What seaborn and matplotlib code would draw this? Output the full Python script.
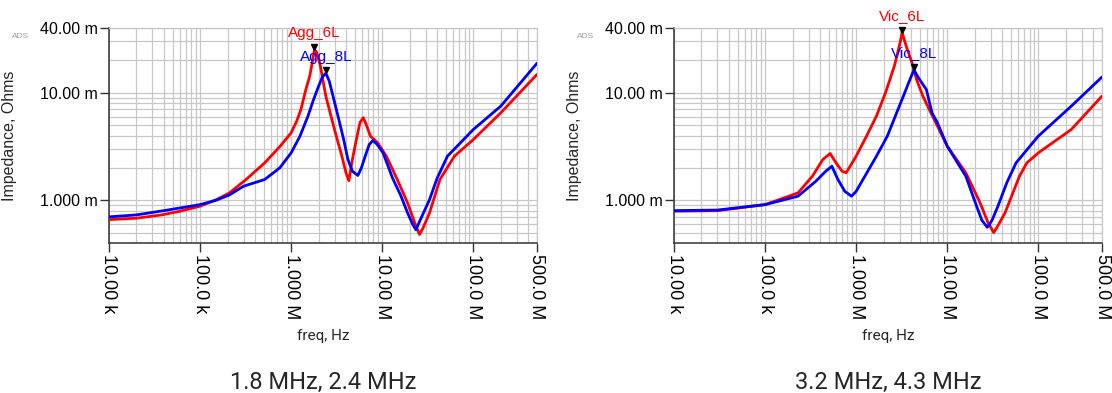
import numpy as np
import pandas as pd
import matplotlib
matplotlib.use("Agg")
import matplotlib.pyplot as plt
from matplotlib.ticker import LogLocator, NullFormatter, FixedLocator
from matplotlib.transforms import offset_copy
import seaborn as sns

# ---------------- data (frequency in Hz, impedance in mOhm) ----------------
agg6_freq = [10e3, 20e3, 37.7e3, 60e3, 100e3, 150e3, 210e3, 320e3, 513e3, 750e3,
             1.0e6, 1.15e6, 1.28e6, 1.45e6, 1.6e6, 1.72e6, 1.8e6, 1.9e6, 2.09e6, 2.4e6,
             3.0e6, 3.6e6, 4.0e6, 4.3e6, 4.7e6, 5.2e6, 5.7e6, 6.2e6, 6.7e6, 7.4e6,
             8.9e6, 11.1e6, 14.6e6, 19e6, 23e6, 25.6e6, 28e6, 33e6, 43e6, 62e6,
             100e6, 200e6, 500e6]
agg6_z = [0.66, 0.68, 0.73, 0.79, 0.88, 1.01, 1.17, 1.56, 2.23, 3.15,
          4.24, 5.44, 7.0, 10.7, 14.3, 20.0, 25.0, 24.0, 17.8, 9.3,
          4.5, 2.57, 1.8, 1.52, 2.39, 3.67, 5.3, 5.85, 5.0, 3.95,
          3.42, 2.57, 1.56, 0.94, 0.60, 0.48, 0.55, 0.76, 1.56, 2.57,
          3.67, 6.5, 14.8]

agg8_freq = [10e3, 20e3, 40e3, 100e3, 150e3, 210e3, 300e3, 513e3, 750e3, 1.0e6,
             1.25e6, 1.53e6, 1.75e6, 2.0e6, 2.2e6, 2.4e6, 2.62e6, 2.88e6, 3.3e6, 3.77e6,
             4.2e6, 4.7e6, 5.4e6, 5.9e6, 6.5e6, 7.2e6, 7.9e6, 8.8e6, 10.2e6, 13e6,
             16e6, 19e6, 21.5e6, 23.4e6, 26e6, 33e6, 40e6, 52e6, 100e6, 200e6, 500e6]
agg8_z = [0.70, 0.73, 0.80, 0.91, 1.0, 1.12, 1.35, 1.56, 2.0, 2.76,
          3.95, 6.07, 8.5, 11.5, 14.0, 15.2, 12.8, 9.3, 5.85, 3.67,
          2.39, 1.86, 1.70, 2.0, 2.57, 3.3, 3.6, 3.3, 2.76, 1.6,
          1.1, 0.76, 0.60, 0.53, 0.65, 1.01, 1.6, 2.57, 4.55, 7.5, 18.8]

vic6_freq = [10e3, 30e3, 100e3, 230e3, 330e3, 430e3, 518e3, 600e3, 700e3, 777e3,
             1.0e6, 1.3e6, 1.67e6, 2.1e6, 2.63e6, 3.0e6, 3.2e6, 3.6e6, 4.1e6, 4.6e6,
             5.4e6, 6.5e6, 7.8e6, 10e6, 16e6, 23e6, 28e6, 32.4e6, 36e6, 43e6,
             62e6, 75e6, 100e6, 230e6, 500e6]
vic6_z = [0.79, 0.80, 0.91, 1.17, 1.67, 2.39, 2.72, 2.23, 1.86, 1.80,
          2.57, 3.95, 6.07, 10.0, 17.8, 28.0, 36.0, 26.0, 19.0, 13.3,
          9.3, 6.7, 4.9, 3.18, 1.80, 0.94, 0.62, 0.50, 0.58, 0.76,
          1.67, 2.23, 2.76, 4.55, 9.3]

vic8_freq = [10e3, 30e3, 100e3, 230e3, 360e3, 460e3, 541e3, 630e3, 750e3, 889e3,
             1.0e6, 1.67e6, 2.2e6, 2.88e6, 3.3e6, 3.77e6, 4.3e6, 4.9e6, 5.9e6, 6.8e6,
             7.8e6, 10e6, 16e6, 21e6, 24e6, 27.5e6, 31e6, 36e6, 45e6, 57e6,
             100e6, 230e6, 500e6]
vic8_z = [0.80, 0.81, 0.91, 1.09, 1.50, 1.85, 2.07, 1.56, 1.21, 1.09,
          1.21, 2.57, 3.95, 7.0, 9.3, 12.4, 16.3, 13.5, 10.7, 6.5,
          5.25, 3.18, 1.67, 0.88, 0.65, 0.56, 0.65, 0.88, 1.45, 2.23,
          3.95, 7.5, 14.0]

panel_titles = ["1.8 MHz, 2.4 MHz", "3.2 MHz, 4.3 MHz"]
series_labels = [("Agg_6L", "Agg_8L"), ("Vic_6L", "Vic_8L")]
marker_freq = [(1.8e6, 2.4e6), (3.2e6, 4.3e6)]
marker_z = [(25.0, 15.2), (36.0, 16.3)]

x_tick_vals = [1e4, 1e5, 1e6, 1e7, 1e8, 5e8]
x_tick_labels = ["10.00 k", "100.0 k", "1.000 M", "10.00 M", "100.0 M", "500.0 M"]
y_tick_vals = [1e-3, 1e-2, 4e-2]
y_tick_labels = ["1.000 m", "10.00 m", "40.00 m"]

# ---------------- style ----------------
sns.set_theme(style="white")
plt.rcParams["font.family"] = ["Liberation Sans", "DejaVu Sans"]

W, H = 1112, 393
fig = plt.figure(figsize=(W / 100, H / 100), dpi=100)
fig.patch.set_facecolor("white")

RED = "#ff0000"
BLUE = "#0000ff"
GRID = "#c8c8c8"

panels = [
    (109, (agg6_freq, agg6_z), (agg8_freq, agg8_z)),
    (674, (vic6_freq, vic6_z), (vic8_freq, vic8_z)),
]

for i, (left_px, s6, s8) in enumerate(panels):
    ax = fig.add_axes([left_px / W, (H - 243) / H, 428 / W, 215 / H])
    df6 = pd.DataFrame({"freq": s6[0], "z": np.array(s6[1]) * 1e-3})
    df8 = pd.DataFrame({"freq": s8[0], "z": np.array(s8[1]) * 1e-3})
    sns.lineplot(data=df6, x="freq", y="z", ax=ax, color=RED, lw=2.0, sort=False, zorder=3)
    sns.lineplot(data=df8, x="freq", y="z", ax=ax, color=BLUE, lw=2.0, sort=False, zorder=4)
    ax.set_xscale("log")
    ax.set_yscale("log")
    ax.set_xlim(1e4, 5e8)
    ax.set_ylim(4e-4, 4e-2)

    ax.xaxis.set_major_locator(FixedLocator(x_tick_vals))
    ax.set_xticklabels(x_tick_labels, rotation=270, ha="center", va="top", fontsize=13)
    ax.xaxis.set_minor_locator(LogLocator(base=10, subs=np.arange(2, 10), numticks=20))
    ax.xaxis.set_minor_formatter(NullFormatter())
    ax.yaxis.set_major_locator(FixedLocator(y_tick_vals))
    ax.set_yticklabels(y_tick_labels, fontsize=11.5)
    ax.yaxis.set_minor_locator(LogLocator(base=10, subs=np.arange(2, 10), numticks=20))
    ax.yaxis.set_minor_formatter(NullFormatter())

    ax.grid(True, which="both", color=GRID, lw=0.9, zorder=0)
    ax.tick_params(axis="both", which="major", direction="out", length=6.5, width=1,
                   color="#333333", pad=1.5, labelcolor="black", left=True, bottom=True)
    ax.tick_params(axis="both", which="minor", length=0)
    for side in ["top", "right"]:
        ax.spines[side].set_color(GRID)
        ax.spines[side].set_linewidth(0.9)
    for side in ["left", "bottom"]:
        ax.spines[side].set_color("#333333")
        ax.spines[side].set_linewidth(1.1)

    ax.set_xlabel("")
    ax.set_ylabel("Impedance, Ohms", fontsize=11.5)
    ax.yaxis.set_label_coords(-92 / 428, 0.5)

    # markers
    mtrans = offset_copy(ax.transData, fig=fig, x=0, y=3, units="dots")
    for lab, mf, mz, col in zip(series_labels[i], marker_freq[i], marker_z[i], [RED, BLUE]):
        ax.plot([mf], [mz * 1e-3], marker="v", ms=5, color="black", ls="none",
                transform=mtrans, zorder=6, clip_on=False)
        ax.annotate(lab, xy=(mf, mz * 1e-3), xytext=(0, 12), textcoords="offset points",
                    ha="center", va="center", color=col, fontsize=11, zorder=7,
                    annotation_clip=False)

    # ADS watermark
    fig.text((left_px - 88) / W, 1 - 37 / H, "ADS", fontsize=6, color="#a0a0a0",
             ha="center", va="center")

    cx = (left_px + 214) / W
    fig.text(cx, 1 - 336 / H, "freq, Hz", fontsize=11, ha="center", va="center",
             family=["Roboto", "DejaVu Sans"])
    fig.text(cx, 1 - 382 / H, panel_titles[i], fontsize=17, ha="center", va="center",
             family=["Roboto", "DejaVu Sans"])

fig.savefig("out.png", dpi=100, facecolor="white")
